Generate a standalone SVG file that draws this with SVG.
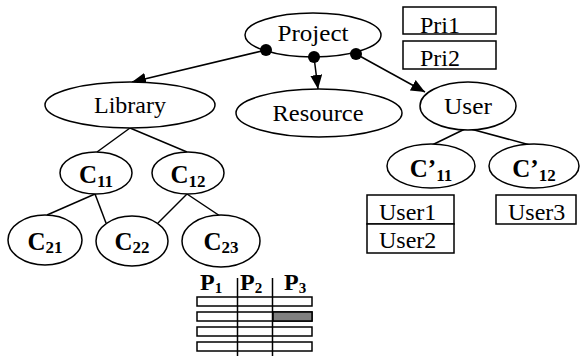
<svg xmlns="http://www.w3.org/2000/svg" width="581" height="360" viewBox="0 0 581 360">
<defs>
<style>
.n{fill:#fff;stroke:#000;stroke-width:1.5}
text{font-family:'Liberation Serif','Times New Roman','DejaVu Serif',serif;fill:#000}
.t{font-size:24px}
.c{font-size:25px;font-weight:bold;text-anchor:middle}
.s{font-size:17px}
.p{font-size:24px;font-weight:bold}
.ps{font-size:15px}
.e{stroke:#000;stroke-width:1.5;fill:none}
.b{fill:#fff;stroke:#000;stroke-width:1.5}
</style>
<marker id="ah" markerWidth="14" markerHeight="12" refX="14" refY="6" orient="auto" markerUnits="userSpaceOnUse">
<path d="M0,0 L14,6 L0,12 z" fill="#000"/>
</marker>
</defs>
<rect width="581" height="360" fill="#fff"/>
<g id="connectors">
<line class="e" x1="266" y1="50" x2="132" y2="82" marker-end="url(#ah)"/>
<line class="e" x1="314" y1="57" x2="318" y2="89" marker-end="url(#ah)"/>
<line class="e" x1="356" y1="54" x2="425" y2="92" marker-end="url(#ah)"/>
<line class="e" x1="130" y1="128" x2="97" y2="152"/>
<line class="e" x1="130" y1="128" x2="187" y2="152"/>
<line class="e" x1="95" y1="194" x2="47" y2="215"/>
<line class="e" x1="95" y1="194" x2="106" y2="223"/>
<line class="e" x1="187" y1="194" x2="158" y2="223"/>
<line class="e" x1="187" y1="194" x2="220" y2="216"/>
<line class="e" x1="467" y1="128" x2="432" y2="145"/>
<line class="e" x1="467" y1="128" x2="530" y2="145"/>
</g>
<g id="project">
<ellipse class="n" cx="313" cy="35" rx="68" ry="22"/>
<text class="t" x="313" y="41" text-anchor="middle" textLength="71" lengthAdjust="spacingAndGlyphs">Project</text>
<circle cx="266" cy="50" r="6"/>
<circle cx="314" cy="57" r="6"/>
<circle cx="356" cy="54" r="6"/>
</g>
<g id="pri1"><rect class="b" x="403" y="7" width="93" height="27"/><text class="t" x="420" y="33">Pri1</text></g>
<g id="pri2"><rect class="b" x="403" y="41" width="93" height="28"/><text class="t" x="420" y="66">Pri2</text></g>
<g id="library">
<ellipse class="n" cx="130" cy="105" rx="85" ry="23"/>
<text class="t" x="130" y="113" text-anchor="middle" textLength="72" lengthAdjust="spacingAndGlyphs">Library</text>
</g>
<g id="resource">
<ellipse class="n" cx="319" cy="113" rx="83" ry="24"/>
<text class="t" x="318" y="121" text-anchor="middle" textLength="91" lengthAdjust="spacingAndGlyphs">Resource</text>
</g>
<g id="user">
<ellipse class="n" cx="468" cy="106" rx="48" ry="24"/>
<text class="t" x="468" y="114" text-anchor="middle" textLength="48" lengthAdjust="spacingAndGlyphs">User</text>
</g>
<g id="c11"><ellipse class="n" cx="96" cy="173" rx="36" ry="21"/><text class="c" x="96" y="183">C<tspan class="s" dy="4">11</tspan></text></g>
<g id="c12"><ellipse class="n" cx="188" cy="173" rx="36" ry="21"/><text class="c" x="188" y="183">C<tspan class="s" dy="4">12</tspan></text></g>
<g id="c21"><ellipse class="n" cx="45" cy="240" rx="37" ry="25"/><text class="c" x="45" y="250">C<tspan class="s" dy="3">21</tspan></text></g>
<g id="c22"><ellipse class="n" cx="132" cy="241" rx="36" ry="25"/><text class="c" x="132" y="250">C<tspan class="s" dy="3">22</tspan></text></g>
<g id="c23"><ellipse class="n" cx="221" cy="241" rx="39" ry="26"/><text class="c" x="221" y="250">C<tspan class="s" dy="3">23</tspan></text></g>
<g id="cp11"><ellipse class="n" cx="431" cy="166" rx="44" ry="22"/><text class="c" x="431" y="177">C’<tspan class="s" dy="4">11</tspan></text></g>
<g id="cp12"><ellipse class="n" cx="534" cy="166" rx="45" ry="22"/><text class="c" x="534" y="177">C’<tspan class="s" dy="4">12</tspan></text></g>
<g id="user1"><rect class="b" x="367" y="195" width="87" height="29"/><text class="t" x="379" y="220">User1</text></g>
<g id="user2"><rect class="b" x="367" y="224" width="87" height="29"/><text class="t" x="379" y="248">User2</text></g>
<g id="user3"><rect class="b" x="496" y="195" width="80" height="29"/><text class="t" x="508" y="220">User3</text></g>
<g id="table">
<text class="p" x="200" y="290">P<tspan class="ps" dy="3">1</tspan></text>
<text class="p" x="240" y="290">P<tspan class="ps" dy="3">2</tspan></text>
<text class="p" x="284" y="290">P<tspan class="ps" dy="3">3</tspan></text>
<rect class="b" x="197" y="297" width="115" height="9"/>
<rect class="b" x="197" y="312" width="115" height="9"/>
<rect x="273" y="312" width="39" height="9" fill="#808080" stroke="#000" stroke-width="1.5"/>
<rect class="b" x="197" y="327" width="115" height="9"/>
<rect class="b" x="197" y="342" width="115" height="9"/>
<line class="e" x1="237.5" y1="278" x2="237.5" y2="356"/>
<line class="e" x1="272.5" y1="278" x2="272.5" y2="356"/>
</g>
</svg>
